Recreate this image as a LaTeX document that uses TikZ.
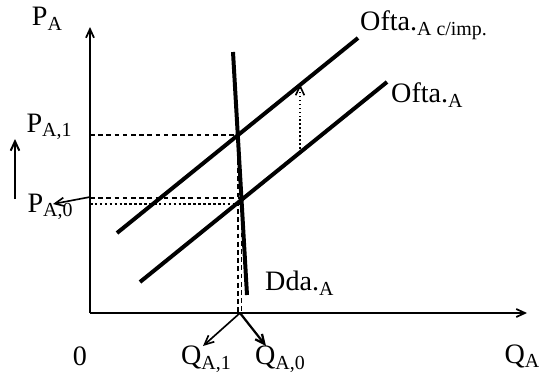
\documentclass[tikz,border=0pt]{standalone}
\usepackage{fontspec}
\setmainfont{Liberation Serif}
\usetikzlibrary{arrows.meta,positioning}
\newcommand\lsub[1]{\raisebox{-0.35ex}{\fontsize{17}{17}\selectfont #1}}

\begin{document}
\begin{tikzpicture}[x=0.3mm,y=-0.3mm,
axis/.style={line width=1.5pt,-{Straight Barb[length=2.6mm,width=2.4mm]}},
curve/.style={line width=3.4pt},
guide/.style={line width=1.4pt,dash pattern=on 4pt off 3pt},
move/.style={line width=1.4pt,-{Straight Barb[length=2.8mm,width=2.6mm]}},
lbl/.style={font=\fontsize{24}{28}\selectfont,inner sep=0pt}]
\useasboundingbox (0,0) rectangle (543,379);
% axes
\coordinate (O) at (90,313);
\coordinate (ytop) at (90,27);
\coordinate (xend) at (527,313);
\draw[axis] (O) -- (ytop);
\draw[axis] (O) -- (xend);
% supply and demand
\coordinate (s1a) at (117,233); \coordinate (s1b) at (358,38);
\coordinate (s0a) at (140,282); \coordinate (s0b) at (387,82);
\coordinate (da) at (233,52); \coordinate (db) at (247,295);
\draw[curve] (s1a) -- (s1b);
\draw[curve] (s0a) -- (s0b);
\draw[curve] (da) -- (db);
\coordinate (E1) at (intersection of s1a--s1b and da--db);
\coordinate (E0) at (intersection of s0a--s0b and da--db);
% guides
\draw[guide] (E1 -| O) -- (E1);
\draw[guide] (E1) -- (E1 |- O);
\draw[guide] ([yshift=0.6mm]E0 -| O) -- ([yshift=0.6mm]E0);
\draw[line width=2.2pt,dotted] ([yshift=-1.2mm]E0 -| O) -- ([yshift=-1.2mm]E0);
\draw[guide] (E0) -- (E0 |- O);
% shifts
\draw[move,dotted] (300,153) -- (300,84);
\coordinate (pup0) at (15,199);
\coordinate (pup1) at (15,139);
\draw[move,line width=1.7pt] (pup0) -- (pup1);
\coordinate (paxis) at (90,197);
\draw[move] (paxis) -- (53,204);
\coordinate (qaxis) at (240,313);
\draw[move] (qaxis) -- (203,346);
\draw[move,line width=1.9pt] (qaxis) -- (266,346);
% labels
\node[lbl] (pA) at (47,19) {P\lsub{A}};
\node[lbl] (pA1) at (49,127) {P\lsub{A,1}};
\node[lbl] (pA0) at (50,207) {P\lsub{A,0}};
\node[lbl] (zero) at (80,356) {0};
\node[lbl] (qA1) at (206,359) {Q\lsub{A,1}};
\node[lbl] (qA0) at (280,359) {Q\lsub{A,0}};
\node[lbl] (qA) at (522,356) {Q\lsub{A}};
\node[lbl,anchor=west] (simp) at (360,25) {Ofta.\lsub{A c/imp.}};
\node[lbl,anchor=west] (s0) at (391,95) {Ofta.\lsub{A}};
\node[lbl,anchor=west] (dd) at (265,283) {Dda.\lsub{A}};
\end{tikzpicture}
\end{document}
